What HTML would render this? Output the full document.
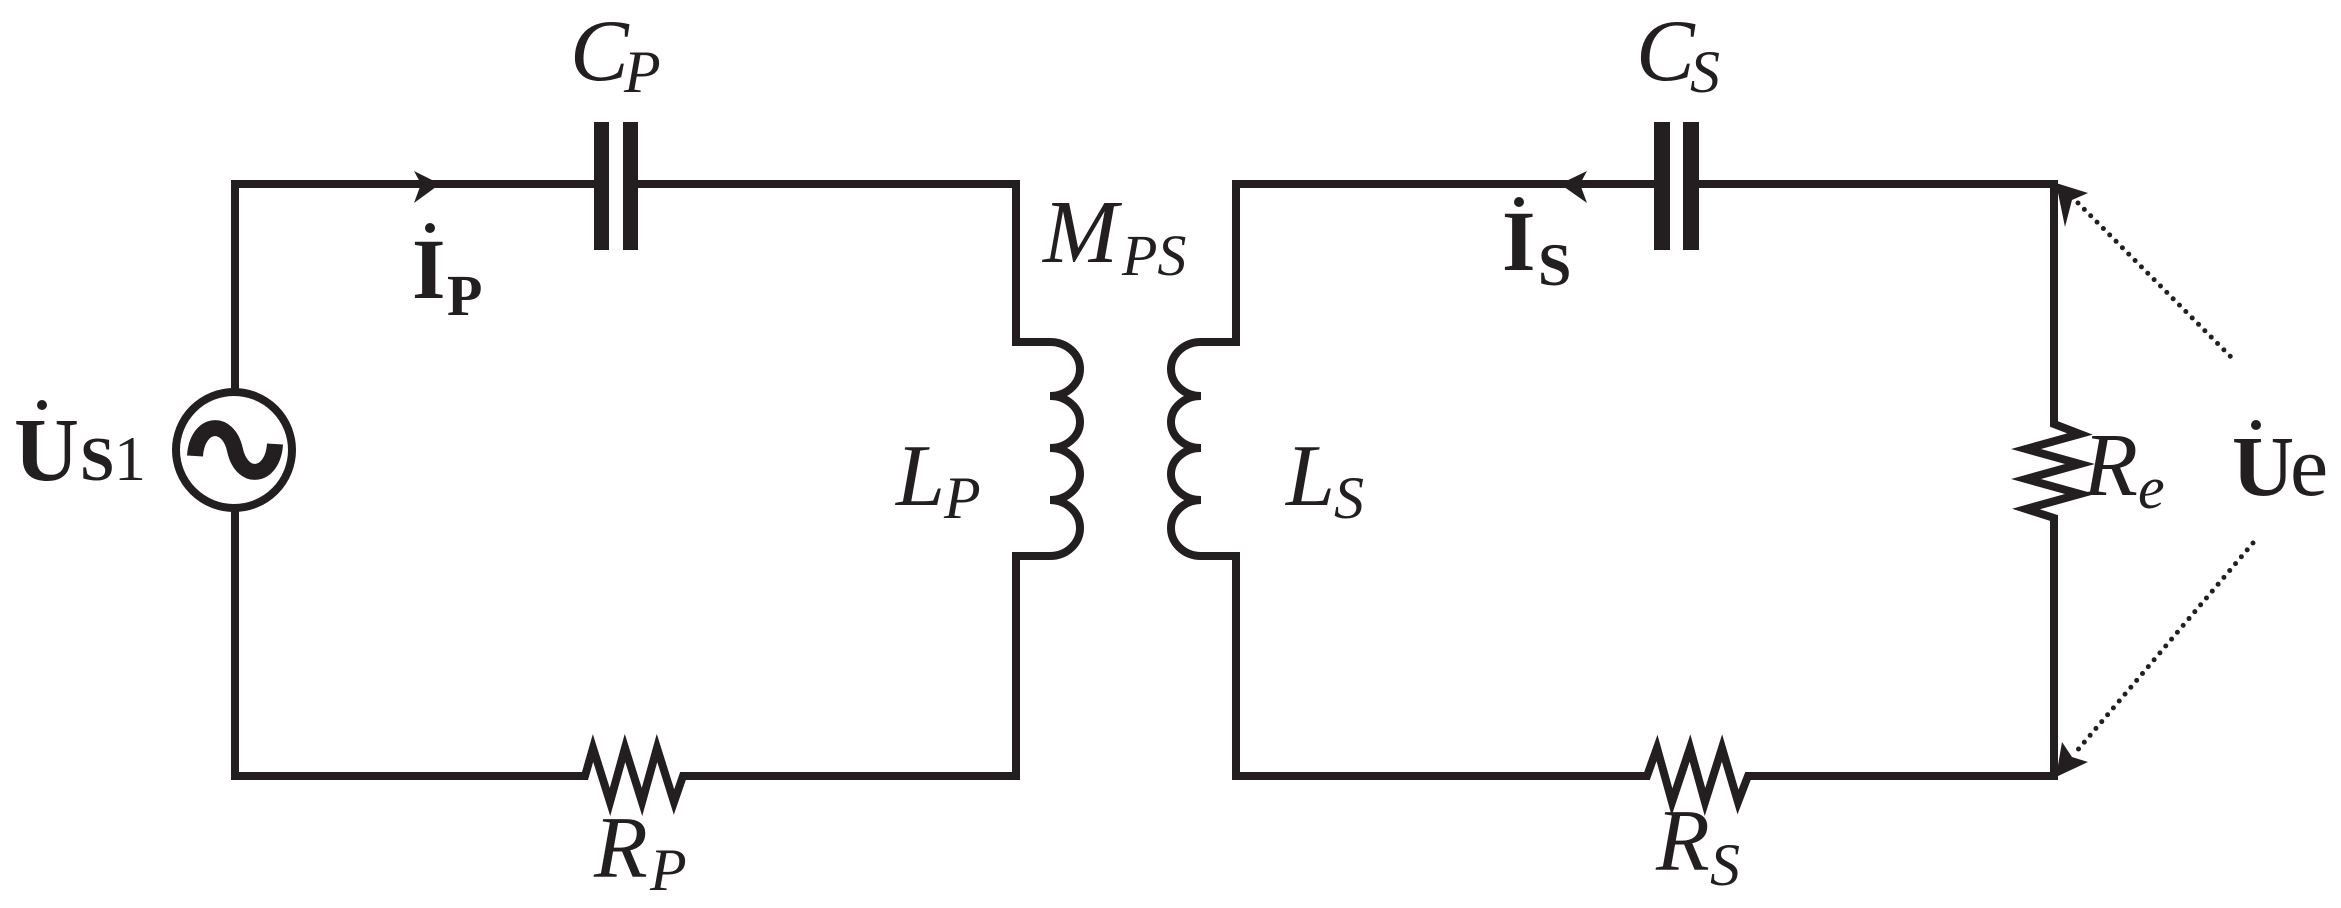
<!DOCTYPE html>
<html><head><meta charset="utf-8"><style>
html,body{margin:0;padding:0;background:#fff;}
svg{display:block;}
</style></head><body>
<svg width="2341" height="908" viewBox="0 0 2341 908" xmlns="http://www.w3.org/2000/svg">
<g fill="none" stroke="#231f20" stroke-width="8" stroke-linejoin="miter" stroke-linecap="butt">
<path d="M235,392 V184 H594"/>
<path d="M638,184 H1016 V342 H1050 A30,27 0 0 1 1050,396 A30,26 0 0 1 1050,448 A30,26 0 0 1 1050,500 A30,28 0 0 1 1050,556 H1016 V776 H683 L674,802 L657,748 L642,802 L625,748 L610,802 L593,748 L585,776 H235 V508"/>
<path d="M1654,184 H1236 V342 H1201 A30,27 0 0 0 1201,396 A30,26 0 0 0 1201,448 A30,26 0 0 0 1201,500 A30,28 0 0 0 1201,556 H1236 V776 H1647 L1657,748 L1672,802 L1690,748 L1705,802 L1722,748 L1738,802 L1748,776 H2054 V518 L2026,509 L2080,494 L2026,479 L2080,464 L2026,449 L2080,434 L2054,424 V184 H1699"/>
<circle cx="234" cy="450" r="58"/>
</g>
<rect x="594" y="122" width="15" height="128" fill="#231f20"/>
<rect x="623" y="122" width="15" height="128" fill="#231f20"/>
<rect x="1654" y="122" width="16" height="128" fill="#231f20"/>
<rect x="1683" y="122" width="16" height="128" fill="#231f20"/>
<path d="M195,456 C197,422 228,418 235,450 C242,482 273,478 275,444" fill="none" stroke="#231f20" stroke-width="16"/>
<path d="M440,184 L414,171 L421,184 L414,203 Z" fill="#231f20"/>
<path d="M1560,184 L1587,171 L1580,184 L1587,203 Z" fill="#231f20"/>
<path d="M2056,183 L2088,193 L2072,200 L2065,227 Z" fill="#231f20"/>
<path d="M2056,777 L2088,762 L2072,757 L2062,742 Z" fill="#231f20"/>
<g stroke="#231f20" stroke-width="5" stroke-linecap="round" stroke-dasharray="0 9" fill="none">
<path d="M2078,203 L2232,358"/>
<path d="M2253,543 L2076,752"/>
</g>
<circle cx="430" cy="228" r="5" fill="#231f20"/>
<circle cx="1519" cy="202" r="5" fill="#231f20"/>
<circle cx="42" cy="405" r="5" fill="#231f20"/>
<circle cx="2256" cy="425" r="5" fill="#231f20"/>
<g font-family="'Liberation Serif','Times New Roman',Times,serif" fill="#231f20">
<g font-style="italic">
<text x="570" y="80" font-size="88">C</text><text x="624" y="92" font-size="60">P</text>
<text x="1636" y="80" font-size="88">C</text><text x="1690" y="92" font-size="60">S</text>
<text x="1043" y="262" font-size="90">M</text><text x="1122" y="275" font-size="58">PS</text>
<text x="896" y="505" font-size="88">L</text><text x="944" y="518" font-size="60">P</text>
<text x="1286" y="505" font-size="88">L</text><text x="1334" y="518" font-size="60">S</text>
<text x="594" y="877" font-size="88">R</text><text x="650" y="890" font-size="60">P</text>
<text x="1656" y="870" font-size="88">R</text><text x="1710" y="885" font-size="60">S</text>
<text x="2083" y="495" font-size="90">R</text><text x="2138" y="508" font-size="60">e</text>
</g>
<g font-weight="bold">
<text x="412" y="298" font-size="86">I</text><text x="447" y="315" font-size="58">P</text>
<text x="1502" y="270" font-size="86">I</text><text x="1538" y="285" font-size="60">S</text>
<text x="14" y="480" font-size="90">U</text><text x="80" y="480" font-size="62">S</text>
<text x="2232" y="495" font-size="86">U</text>
</g>
<text x="114" y="480" font-size="64">1</text>
<text x="2290" y="495" font-size="86">e</text>
</g>
</svg>
</body></html>
